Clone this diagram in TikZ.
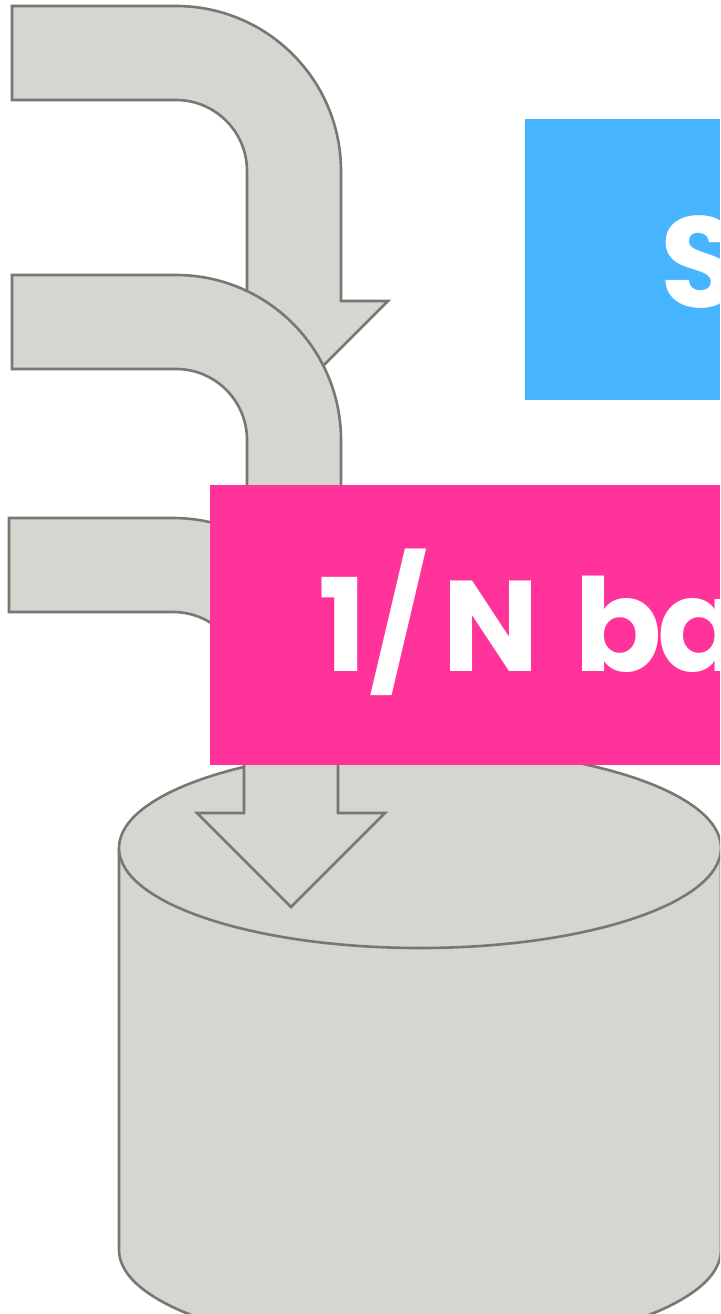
\documentclass[tikz,border=0pt]{standalone}
\usepackage{fontspec}
\setmainfont{Poppins}[BoldFont={* Bold}]
\definecolor{shapefill}{HTML}{D6D5CF}
\definecolor{shapeline}{HTML}{777773}
\definecolor{bluebox}{HTML}{47B4FF}
\definecolor{pinkbox}{HTML}{FF3399}
\tikzset{
  shapeitem/.style={fill=shapefill,draw=shapeline,line width=2.6pt,line join=miter},
  banner/.style={font=\bfseries\fontsize{129}{129}\selectfont,text=white,anchor=base west,inner sep=0pt}
}
\begin{document}
\begin{tikzpicture}[x=1pt,y=-1pt]
\useasboundingbox (0,0) rectangle (720,1314);
\clip (0,0) rectangle (720,1314);
% cylinder
\draw[shapeitem] (119,848) -- (119,1250) arc[start angle=180,end angle=0,x radius=301,y radius=100] -- (721,848)
  arc[start angle=0,end angle=180,x radius=301,y radius=-100] -- cycle;
\draw[shapeitem] (119,848) arc[start angle=180,end angle=360,x radius=301,y radius=-100];
% arrow 1
\draw[shapeitem] (12,6) -- (176,6) arc[start angle=90,end angle=0,x radius=165,y radius=-165] -- (341,301) -- (388,301) -- (294,395) -- (200,301) -- (247,301) -- (247,171)
  arc[start angle=0,end angle=90,x radius=71,y radius=-71] -- (12,100) -- cycle;
% arrow 2
\draw[shapeitem] (12,275) -- (176,275) arc[start angle=90,end angle=0,x radius=165,y radius=-165] -- (341,570) -- (388,570) -- (294,664) -- (200,570) -- (247,570) -- (247,440)
  arc[start angle=0,end angle=90,x radius=71,y radius=-71] -- (12,369) -- cycle;
% arrow 3
\draw[shapeitem] (9,518) -- (173,518) arc[start angle=90,end angle=0,x radius=165,y radius=-165] -- (338,813) -- (385,813) -- (291,907) -- (197,813) -- (244,813) -- (244,683)
  arc[start angle=0,end angle=90,x radius=71,y radius=-71] -- (9,612) -- cycle;
% boxes
\fill[bluebox] (525,119) rectangle (720,400);
\node[banner] (blue) at (660,307) {S};
\fill[pinkbox] (210,485) rectangle (720,765);
\node[banner] (pink) at (318,671) {1\kern3pt/\kern14pt N\kern8pt{} b\kern-5pt a};
\end{tikzpicture}
\end{document}
